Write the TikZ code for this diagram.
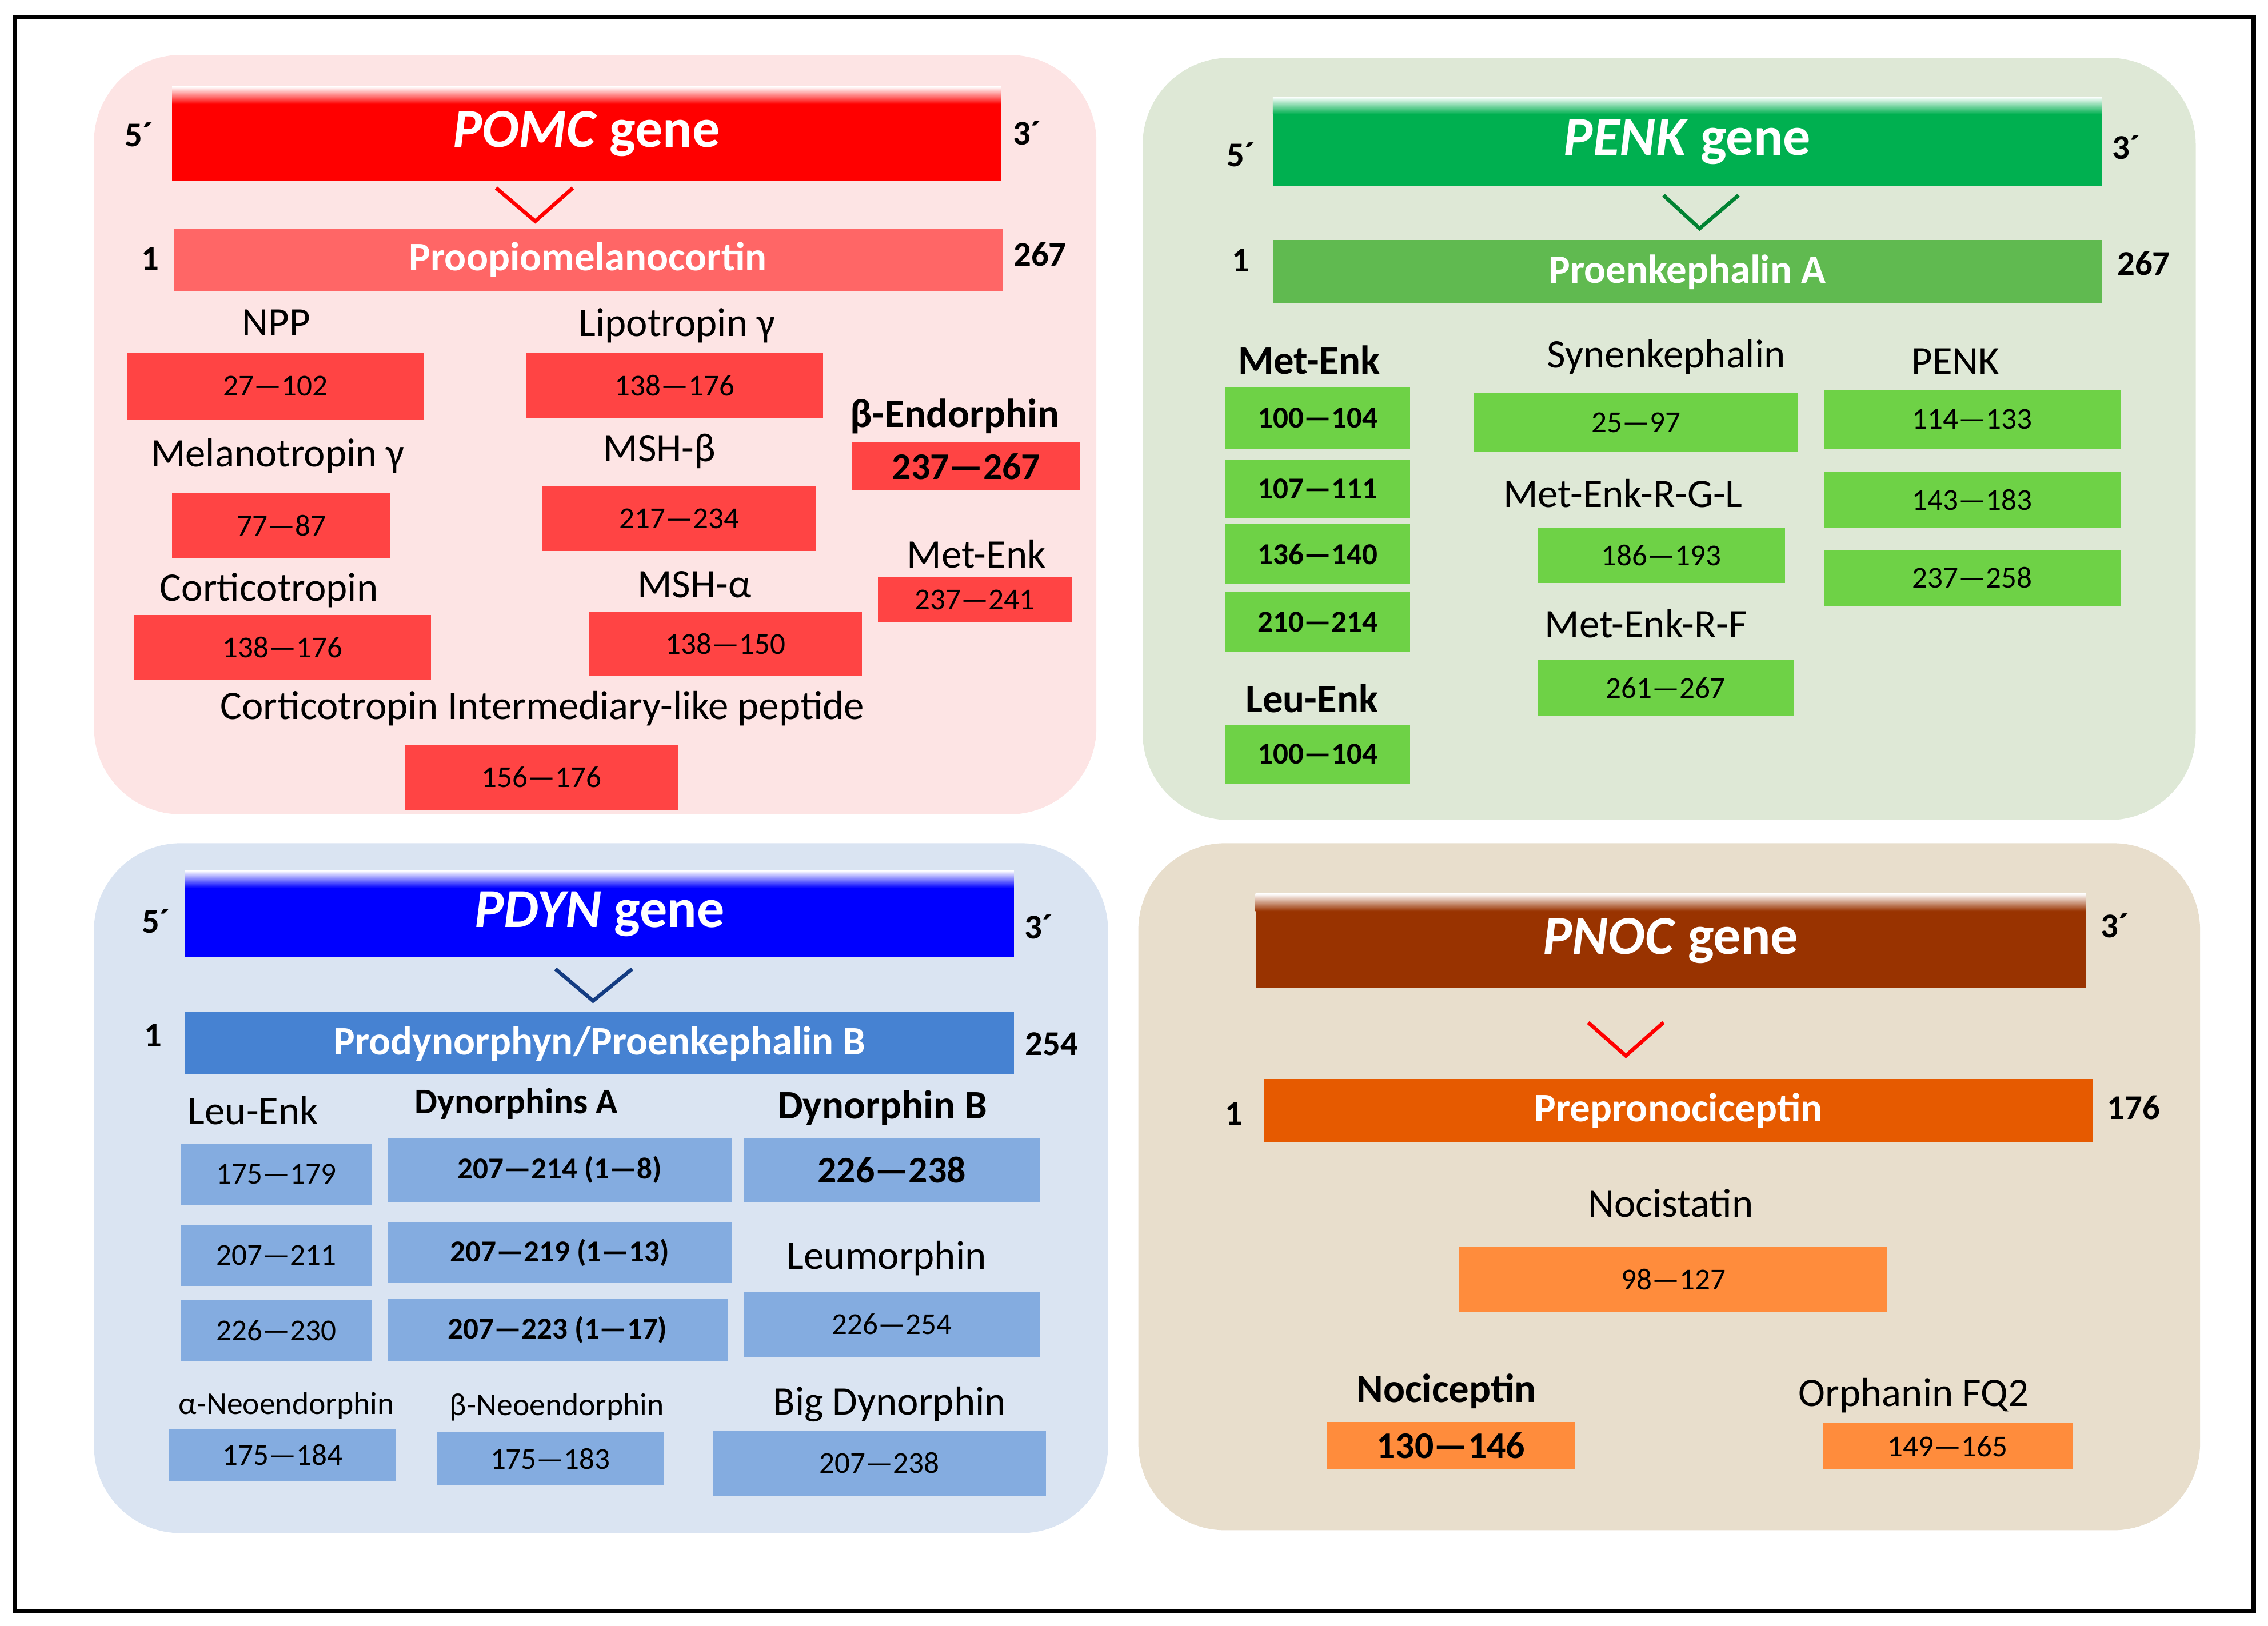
\documentclass[tikz,border=0pt]{standalone}
\usepackage{fontspec}
\setmainfont{Carlito}
\definecolor{pomcbg}{RGB}{253,228,228}
\definecolor{penkbg}{RGB}{222,232,214}
\definecolor{pdynbg}{RGB}{218,228,242}
\definecolor{pnocbg}{RGB}{232,222,204}
\definecolor{pomcgene}{RGB}{255,0,0}
\definecolor{pomcbar}{RGB}{255,102,102}
\definecolor{pomcbox}{RGB}{255,68,68}
\definecolor{penkgene}{RGB}{0,176,80}
\definecolor{penkbar}{RGB}{96,186,80}
\definecolor{penkbox}{RGB}{110,210,70}
\definecolor{penkv}{RGB}{0,130,50}
\definecolor{pdyngene}{RGB}{0,0,255}
\definecolor{pdynbar}{RGB}{70,130,210}
\definecolor{pdynbox}{RGB}{132,172,224}
\definecolor{pdynv}{RGB}{20,60,130}
\definecolor{pnocgene}{RGB}{153,51,0}
\definecolor{pnocbar}{RGB}{230,90,0}
\definecolor{pnocbox}{RGB}{255,140,60}
\newcommand\pbox[7]{\node[#6, minimum width={(#4-#2)*0.5pt}, minimum height={(#5-#3)*0.5pt}] (#1) at ({(#2+#4)/2},{(#3+#5)/2}) {#7};}
\newcommand\genebar[4]{% x1 y1 x2 y2
  \shade[top color=white, bottom color=#4] (#1,#2) rectangle (#3,{#2+12});}
\begin{document}
\begin{tikzpicture}[x=0.5pt,y=-0.5pt,
  panel/.style={rounded corners=30pt},
  gene/.style={inner sep=0pt, text=white, font=\fontsize{19}{21}\selectfont\bfseries},
  bar/.style={inner sep=0pt, text=white, font=\fontsize{14}{16}\selectfont\bfseries},
  lbl/.style={inner sep=0pt, font=\fontsize{14}{16}\selectfont},
  blbl/.style={inner sep=0pt, font=\fontsize{14}{16}\selectfont\bfseries},
  end/.style={inner sep=0pt, font=\fontsize{12}{14}\selectfont\bfseries},
  num/.style={inner sep=0pt, font=\fontsize{10.5}{12}\selectfont},
  bnum/.style={inner sep=0pt, font=\fontsize{10.5}{12}\selectfont\bfseries},
  Bnum/.style={inner sep=0pt, font=\fontsize{13}{15}\selectfont\bfseries},
  chev/.style={line width=1.3pt}]
\useasboundingbox (0,0) rectangle (1568,1124);
\draw[line width=1.5pt] (10,12) rectangle (1558,1114);

%% POMC
\fill[panel, pomcbg] (65,38) rectangle (758,563);
\pbox{pomc}{119}{60}{692}{125}{gene, fill=pomcgene}{}
\genebar{119}{60}{692}{pomcgene}
\node[gene] (pomct) at (pomc) {\textit{POMC} gene};
\node[end] (pomc5) at (96,93) {5´};
\node[end] (pomc3) at (710,92) {3´};
\draw[chev, pomcgene] (343,130) -- (370,153) -- (396,130);
\pbox{pomcp}{120}{158}{693}{201}{bar, fill=pomcbar}{Proopiomelanocortin}
\node[end] (pomcs) at (104,179) {1};
\node[end] (pomce) at (719,176) {267};
\node[lbl] (npp) at (191,223) {NPP};
\pbox{nppb}{88}{244}{293}{290}{num, fill=pomcbox}{27—102}
\node[lbl] (lpg) at (468,225) {Lipotropin γ};
\pbox{lpgb}{364}{244}{569}{289}{num, fill=pomcbox}{138—176}
\node[blbl] (bend) at (660,288) {β-Endorphin};
\pbox{bendb}{589}{306}{747}{339}{Bnum, fill=pomcbox}{237—267}
\node[lbl] (mlg) at (192,315) {Melanotropin γ};
\pbox{mlgb}{119}{341}{270}{386}{num, fill=pomcbox}{77—87}
\node[lbl] (mshb) at (456,312) {MSH-β};
\pbox{mshbb}{375}{336}{564}{381}{num, fill=pomcbox}{217—234}
\node[lbl] (menk) at (675,383) {Met-Enk};
\pbox{menkb}{607}{399}{741}{430}{num, fill=pomcbox}{237—241}
\node[lbl] (crt) at (186,408) {Corticotropin};
\pbox{crtb}{93}{425}{298}{470}{num, fill=pomcbox}{138—176}
\node[lbl] (msha) at (480,404) {MSH-α};
\pbox{mshab}{407}{423}{596}{467}{num, fill=pomcbox}{138—150}
\node[lbl] (clip) at (375,490) {Corticotropin Intermediary-like peptide};
\pbox{clipb}{280}{515}{469}{560}{num, fill=pomcbox}{156—176}

%% PENK
\fill[panel, penkbg] (790,40) rectangle (1518,567);
\pbox{penk}{880}{67}{1453}{129}{gene, fill=penkgene}{}
\genebar{880}{67}{1453}{penkgene}
\node[gene] (penkt) at (penk) {\textit{PENK} gene};
\node[end] (penk5) at (858,107) {5´};
\node[end] (penk3) at (1470,102) {3´};
\draw[chev, penkv] (1150,135) -- (1175,158) -- (1202,135);
\pbox{penkp}{880}{166}{1453}{210}{bar, fill=penkbar}{Proenkephalin A}
\node[end] (penks) at (858,180) {1};
\node[end] (penke) at (1482,182) {267};
\node[blbl] (metenk) at (905,249) {Met-Enk};
\pbox{me1}{847}{268}{975}{310}{bnum, fill=penkbox}{100—104}
\pbox{me2}{847}{318}{975}{358}{bnum, fill=penkbox}{107—111}
\pbox{me3}{847}{362}{975}{404}{bnum, fill=penkbox}{136—140}
\pbox{me4}{847}{409}{975}{451}{bnum, fill=penkbox}{210—214}
\node[blbl] (leuenk) at (907,483) {Leu-Enk};
\pbox{le1}{847}{501}{975}{542}{bnum, fill=penkbox}{100—104}
\node[lbl] (syn) at (1152,247) {Synenkephalin};
\pbox{synb}{1019}{272}{1243}{312}{num, fill=penkbox}{25—97}
\node[lbl] (mergl) at (1122,341) {Met-Enk-R-G-L};
\pbox{merglb}{1063}{365}{1234}{403}{num, fill=penkbox}{186—193}
\node[lbl] (merf) at (1138,431) {Met-Enk-R-F};
\pbox{merfb}{1063}{456}{1240}{495}{num, fill=penkbox}{261—267}
\node[lbl] (penkl) at (1352,250) {PENK};
\pbox{pk1}{1261}{270}{1466}{310}{num, fill=penkbox}{114—133}
\pbox{pk2}{1261}{326}{1466}{365}{num, fill=penkbox}{143—183}
\pbox{pk3}{1261}{380}{1466}{419}{num, fill=penkbox}{237—258}

%% PDYN
\fill[panel, pdynbg] (65,583) rectangle (766,1060);
\pbox{pdyn}{128}{602}{701}{662}{gene, fill=pdyngene}{}
\genebar{128}{602}{701}{pdyngene}
\node[gene] (pdynt) at (pdyn) {\textit{PDYN} gene};
\node[end] (pdyn5) at (108,637) {5´};
\node[end] (pdyn3) at (718,641) {3´};
\draw[chev, pdynv] (384,670) -- (410,692) -- (437,670);
\pbox{pdynp}{128}{700}{701}{743}{bar, fill=pdynbar}{Prodynorphyn/Proenkephalin B}
\node[end] (pdyns) at (106,716) {1};
\node[end] (pdyne) at (727,722) {254};
\node[lbl] (leu) at (175,768) {Leu-Enk};
\pbox{leu1}{125}{791}{257}{833}{num, fill=pdynbox}{175—179}
\pbox{leu2}{125}{847}{257}{889}{num, fill=pdynbox}{207—211}
\pbox{leu3}{125}{899}{257}{941}{num, fill=pdynbox}{226—230}
\node[inner sep=0pt, font=\fontsize{12.5}{14}\selectfont\bfseries] (dyna) at (357,763) {Dynorphins A};
\pbox{dya1}{268}{787}{506}{831}{bnum, fill=pdynbox}{207—214 (1—8)}
\pbox{dya2}{268}{845}{506}{887}{bnum, fill=pdynbox}{207—219 (1—13)}
\pbox{dya3}{268}{898}{503}{941}{bnum, fill=pdynbox}{207—223 (1—17)}
\node[blbl] (dynb) at (610,766) {Dynorphin B};
\pbox{dybb}{514}{787}{719}{831}{Bnum, fill=pdynbox}{226—238}
\node[lbl] (leum) at (613,870) {Leumorphin};
\pbox{leumb}{514}{893}{719}{938}{num, fill=pdynbox}{226—254}
\node[inner sep=0pt, font=\fontsize{11}{13}\selectfont] (aneo) at (198,972) {α-Neoendorphin};
\pbox{aneob}{117}{988}{274}{1024}{num, fill=pdynbox}{175—184}
\node[inner sep=0pt, font=\fontsize{11}{13}\selectfont] (bneo) at (385,973) {β-Neoendorphin};
\pbox{bneob}{302}{990}{459}{1027}{num, fill=pdynbox}{175—183}
\node[lbl] (bigd) at (615,971) {Big Dynorphin};
\pbox{bigdb}{493}{989}{723}{1034}{num, fill=pdynbox}{207—238}

%% PNOC
\fill[panel, pnocbg] (787,583) rectangle (1521,1058);
\pbox{pnoc}{868}{618}{1442}{683}{gene, fill=pnocgene}{}
\genebar{868}{618}{1442}{pnocgene}
\node[gene] (pnoct) at (pnoc) {\textit{PNOC} gene};
\node[end] (pnoc3) at (1462,640) {3´};
\draw[chev, pomcgene] (1098,707) -- (1124,730) -- (1150,707);
\pbox{pnocp}{874}{746}{1447}{790}{bar, fill=pnocbar}{Prepronociceptin}
\node[end] (pnocs) at (853,770) {1};
\node[end] (pnoce) at (1475,766) {176};
\node[lbl] (noc) at (1155,832) {Nocistatin};
\pbox{nocb}{1009}{862}{1305}{907}{num, fill=pnocbox}{98—127}
\node[blbl] (nocc) at (1000,962) {Nociceptin};
\pbox{noccb}{917}{983}{1089}{1016}{Bnum, fill=pnocbox}{130—146}
\node[lbl] (ofq) at (1323,965) {Orphanin FQ2};
\pbox{ofqb}{1260}{984}{1433}{1016}{num, fill=pnocbox}{149—165}
\end{tikzpicture}
\end{document}
